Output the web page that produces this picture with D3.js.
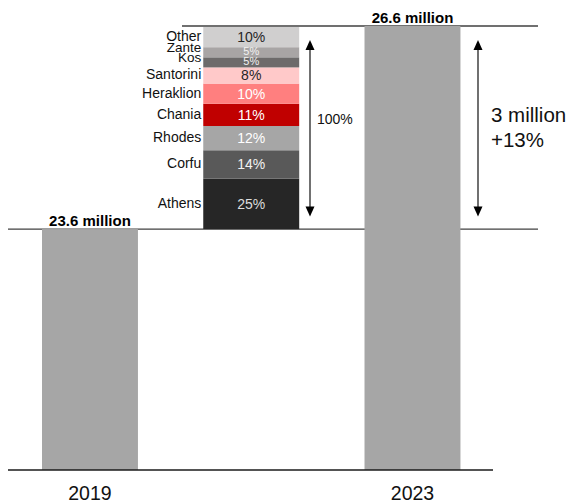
<!DOCTYPE html>
<html><head><meta charset="utf-8">
<script src="https://cdn.jsdelivr.net/npm/d3@7"></script>
<style>body{margin:0;background:#fff}svg{display:block;font-family:"Liberation Sans",Arial,sans-serif}</style>
</head><body><svg id="c" width="570" height="504"></svg>
<script>
const years = ["2019", "2023"];
const totals = [23.6, 26.6];               // million passengers
const totalLabels = ["23.6 million", "26.6 million"];
const airports = ["Athens", "Corfu", "Rhodes", "Chania", "Heraklion", "Santorini", "Kos", "Zante", "Other"];
const shares = [25, 14, 12, 11, 10, 8, 5, 5, 10];   // % of the increase
const shareLabels = ["25%", "14%", "12%", "11%", "10%", "8%", "5%", "5%", "10%"];
const colors = ["#262626", "#595959", "#a6a6a6", "#c00000", "#ff7f7f", "#ffc9c9", "#6d6b6b", "#a8a5a5", "#d0cfcf"];
const shareTextColors = ["#dddddd", "#f2f2f2", "#ffffff", "#ffffff", "#ffffff", "#262626", "#f2f2f2", "#f2f2f2", "#262626"];
const stackTotalLabel = "100%";
const changeLabels = ["3 million", "+13%"];

const svg = d3.select("#c");

const x = d3.scaleBand().domain(["2019", "change", "2023"])
  .range([9.75, 492.7]).paddingInner(0.405).paddingOuter(0.2);
const y = d3.scaleLinear().domain([20.04, 26.6]).range([470, 26]);
const yS = d3.scaleLinear().domain([0, 100]).range([y(totals[0]), y(totals[1]) + 1]);

// reference lines
svg.append("line").attr("x1", 8).attr("x2", 538).attr("y1", y(totals[0])).attr("y2", y(totals[0]))
  .attr("stroke", "#404040").attr("stroke-width", 1.3);
svg.append("line").attr("x1", 182).attr("x2", 538).attr("y1", y(totals[1])).attr("y2", y(totals[1]))
  .attr("stroke", "#404040").attr("stroke-width", 1.3);

// total bars
svg.selectAll("rect.tot").data(years).join("rect").attr("class", "tot")
  .attr("x", d => x(d)).attr("width", x.bandwidth())
  .attr("y", (d, i) => y(totals[i])).attr("height", (d, i) => y.range()[0] - y(totals[i]))
  .attr("fill", "#a6a6a6");

// baseline
svg.append("line").attr("x1", 8).attr("x2", 493).attr("y1", 470).attr("y2", 470)
  .attr("stroke", "#1a1a1a").attr("stroke-width", 1.5);

// total labels
svg.selectAll("text.tl").data(years).join("text").attr("class", "tl")
  .attr("x", d => x(d) + x.bandwidth() / 2).attr("y", (d, i) => y(totals[i]) - 3.5)
  .attr("text-anchor", "middle").attr("font-weight", "bold").attr("font-size", 15)
  .attr("fill", "#000").text((d, i) => totalLabels[i]);

// year labels
svg.selectAll("text.yr").data(years).join("text").attr("class", "yr")
  .attr("x", d => x(d) + x.bandwidth() / 2).attr("y", 500)
  .attr("text-anchor", "middle").attr("font-size", 19.5).attr("fill", "#111").text(d => d);

// stacked breakdown
const cum = d3.cumsum(shares);
const segs = airports.map((a, i) => ({a, v: shares[i], y0: cum[i] - shares[i], y1: cum[i], i}));
const xc = x("change"), bw = x.bandwidth();
svg.selectAll("rect.seg").data(segs).join("rect").attr("class", "seg")
  .attr("x", xc).attr("width", bw)
  .attr("y", d => yS(d.y1)).attr("height", d => yS(d.y0) - yS(d.y1))
  .attr("fill", d => colors[d.i]);

svg.selectAll("text.pct").data(segs).join("text").attr("class", "pct")
  .attr("x", xc + bw / 2).attr("y", d => (yS(d.y0) + yS(d.y1)) / 2 - (d.v < 6 ? 1 : 0))
  .attr("dy", "0.35em").attr("text-anchor", "middle")
  .attr("font-size", d => d.v < 6 ? 11 : 14)
  .attr("fill", d => shareTextColors[d.i]).text(d => shareLabels[d.i]);

svg.selectAll("text.cat").data(segs).join("text").attr("class", "cat")
  .attr("x", xc - 2).attr("y", d => (yS(d.y0) + yS(d.y1)) / 2 - (d.v < 6 ? 5 : 1))
  .attr("dy", "0.35em").attr("text-anchor", "end").attr("font-size", d => d.v < 6 ? 13.5 : 14)
  .attr("fill", "#111").text(d => d.a);

// arrows
function vArrow(ax, top, bot) {
  svg.append("line").attr("x1", ax).attr("x2", ax).attr("y1", top + 8).attr("y2", bot - 8)
    .attr("stroke", "#111").attr("stroke-width", 1.2);
  svg.append("path").attr("d", `M${ax},${top}L${ax - 4.5},${top + 10}L${ax + 4.5},${top + 10}Z`).attr("fill", "#000");
  svg.append("path").attr("d", `M${ax},${bot}L${ax - 4.5},${bot - 10}L${ax + 4.5},${bot - 10}Z`).attr("fill", "#000");
}
const aTop = yS(100) + 13, aBot = yS(0) - 12.5;
vArrow(310, aTop, aBot);
vArrow(478, aTop, aBot);

svg.append("text").attr("x", 317).attr("y", 119).attr("dy", "0.35em")
  .attr("font-size", 14).attr("fill", "#111").text(stackTotalLabel);

svg.selectAll("text.chg").data(changeLabels).join("text").attr("class", "chg")
  .attr("x", 491).attr("y", (d, i) => 122 + i * 24.5)
  .attr("font-size", 20.5).attr("fill", "#111").text(d => d);
</script>
</body></html>
